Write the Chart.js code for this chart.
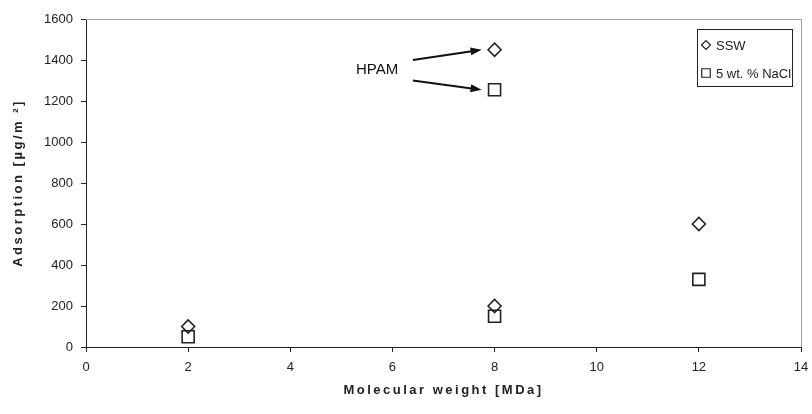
<!DOCTYPE html>
<html>
<head>
<meta charset="utf-8">
<script src="https://cdn.jsdelivr.net/npm/chart.js@4.4.1/dist/chart.umd.min.js"></script>
<style>
  html, body { margin: 0; padding: 0; background: #fff; }
  #wrap { width: 812px; height: 414px; }
</style>
</head>
<body>
<div id="wrap"><canvas id="adsChart" width="812" height="414"></canvas></div>
<script>
  // Molekylvikt [MDa] och adsorption [µg/m²]
  const molWeight = [2, 8, 8, 12];
  const sswValues = [100, 1450, 200, 600];
  const naclValues = [50, 1255, 150, 330];
  const seriesNames = ['SSW', '5 wt. % NaCl'];
  const xTicks = [0, 2, 4, 6, 8, 10, 12, 14];
  const yTicks = [0, 200, 400, 600, 800, 1000, 1200, 1400, 1600];
  const hpamIndex = 1; // punkterna som pilarna pekar på
  const hpamLabel = { text: 'HPAM', x: 5.7, y: 1350 };

  const INK = '#222';
  const FONT = '"Liberation Sans", Arial, sans-serif';

  const toPoints = vals => molWeight.map((x, i) => ({ x: x, y: vals[i] }));

  // Ram upptill och till höger, axeltitlar, pilar och legend
  const decorPlugin = {
    id: 'decor',
    afterDraw(chart) {
      const ctx = chart.ctx;
      const a = chart.chartArea;
      const xs = chart.scales.x, ys = chart.scales.y;
      ctx.save();

      // grå ram
      ctx.strokeStyle = '#a0a0a0';
      ctx.lineWidth = 1;
      ctx.beginPath();
      ctx.moveTo(a.left, a.top + 0.5);
      ctx.lineTo(a.right + 0.5, a.top + 0.5);
      ctx.lineTo(a.right + 0.5, a.bottom);
      ctx.stroke();

      // axeltitlar
      ctx.fillStyle = INK;
      ctx.font = 'bold 13px ' + FONT;
      ctx.letterSpacing = '2.5px';
      ctx.textAlign = 'center';
      ctx.textBaseline = 'middle';
      ctx.fillText('Molecular weight [MDa]', (a.left + a.right) / 2, 390);
      ctx.save();
      ctx.translate(18, (a.top + a.bottom) / 2);
      ctx.rotate(-Math.PI / 2);
      ctx.fillText('Adsorption [µg/m ²]', 0, 0);
      ctx.restore();
      ctx.letterSpacing = '0px';

      // HPAM-text och pilar
      ctx.fillStyle = '#111';
      ctx.font = '15px ' + FONT;
      ctx.fillText(hpamLabel.text, xs.getPixelForValue(hpamLabel.x), ys.getPixelForValue(hpamLabel.y));
      const startX = xs.getPixelForValue(6.4);
      const targets = [
        { y0: ys.getPixelForValue(1400), ds: 0 },
        { y0: ys.getPixelForValue(1300), ds: 1 }
      ];
      targets.forEach(t => {
        const pt = chart.getDatasetMeta(t.ds).data[hpamIndex];
        const ex = pt.x - 13, ey = pt.y;
        const ang = Math.atan2(ey - t.y0, ex - startX);
        ctx.strokeStyle = '#111';
        ctx.fillStyle = '#111';
        ctx.lineWidth = 2;
        ctx.beginPath();
        ctx.moveTo(startX, t.y0);
        ctx.lineTo(ex - 8 * Math.cos(ang), ey - 8 * Math.sin(ang));
        ctx.stroke();
        ctx.beginPath();
        ctx.moveTo(ex, ey);
        ctx.lineTo(ex - 11 * Math.cos(ang) + 4 * Math.sin(ang), ey - 11 * Math.sin(ang) - 4 * Math.cos(ang));
        ctx.lineTo(ex - 11 * Math.cos(ang) - 4 * Math.sin(ang), ey - 11 * Math.sin(ang) + 4 * Math.cos(ang));
        ctx.closePath();
        ctx.fill();
      });

      // legend
      const box = { x: 697.5, y: 29.5, w: 95, h: 57 };
      ctx.fillStyle = '#fff';
      ctx.fillRect(box.x, box.y, box.w, box.h);
      ctx.strokeStyle = INK;
      ctx.lineWidth = 1;
      ctx.strokeRect(box.x, box.y, box.w, box.h);
      ctx.font = '13px ' + FONT;
      ctx.textAlign = 'left';
      chart.data.datasets.forEach((ds, i) => {
        const cy = 45 + i * 28;
        ctx.strokeStyle = INK;
        ctx.fillStyle = 'rgba(0,0,0,0)';
        ctx.lineWidth = 1.2;
        Chart.helpers.drawPoint(ctx, {
          pointStyle: ds.pointStyle,
          radius: ds.pointStyle === 'rect' ? 6 : 4.5,
          rotation: 0,
          borderWidth: 1.2
        }, 706, cy);
        ctx.fillStyle = INK;
        ctx.fillText(ds.label, 716, cy + 1);
      });
      ctx.restore();
    }
  };

  const ctx = document.getElementById('adsChart').getContext('2d');
  const adsChart = new Chart(ctx, {
    type: 'scatter',
    data: {
      datasets: [{
        label: seriesNames[0],
        data: toPoints(sswValues),
        pointStyle: 'rectRot',
        pointRadius: 6.5,
        pointHoverRadius: 6.5,
        borderColor: INK,
        backgroundColor: 'rgba(0,0,0,0)',
        pointBorderWidth: 1.6
      }, {
        label: seriesNames[1],
        data: toPoints(naclValues),
        pointStyle: 'rect',
        pointRadius: 8.5,
        pointHoverRadius: 8.5,
        borderColor: INK,
        backgroundColor: 'rgba(0,0,0,0)',
        pointBorderWidth: 1.6
      }]
    },
    options: {
      responsive: false,
      animation: false,
      layout: { padding: { top: 19, right: 11, left: 0, bottom: 0 } },
      plugins: { legend: { display: false }, tooltip: { enabled: false } },
      scales: {
        x: {
          type: 'linear',
          min: xTicks[0],
          max: xTicks[xTicks.length - 1],
          afterBuildTicks: s => { s.ticks = xTicks.map(v => ({ value: v })); },
          afterFit: s => { s.height = 67; s.paddingRight = 0; s.paddingLeft = 0; },
          grid: { drawOnChartArea: false, tickLength: 5, tickColor: INK },
          border: { color: INK, width: 1 },
          ticks: { color: INK, padding: 8, font: { family: FONT, size: 13 }, callback: v => String(v) }
        },
        y: {
          min: yTicks[0],
          max: yTicks[yTicks.length - 1],
          afterBuildTicks: s => { s.ticks = yTicks.map(v => ({ value: v })); },
          afterFit: s => { s.width = 86; },
          grid: { drawOnChartArea: false, tickLength: 5, tickColor: INK },
          border: { color: INK, width: 1 },
          ticks: { color: INK, padding: 8, font: { family: FONT, size: 13 }, callback: v => String(v) }
        }
      }
    },
    plugins: [decorPlugin]
  });
</script>
</body>
</html>
